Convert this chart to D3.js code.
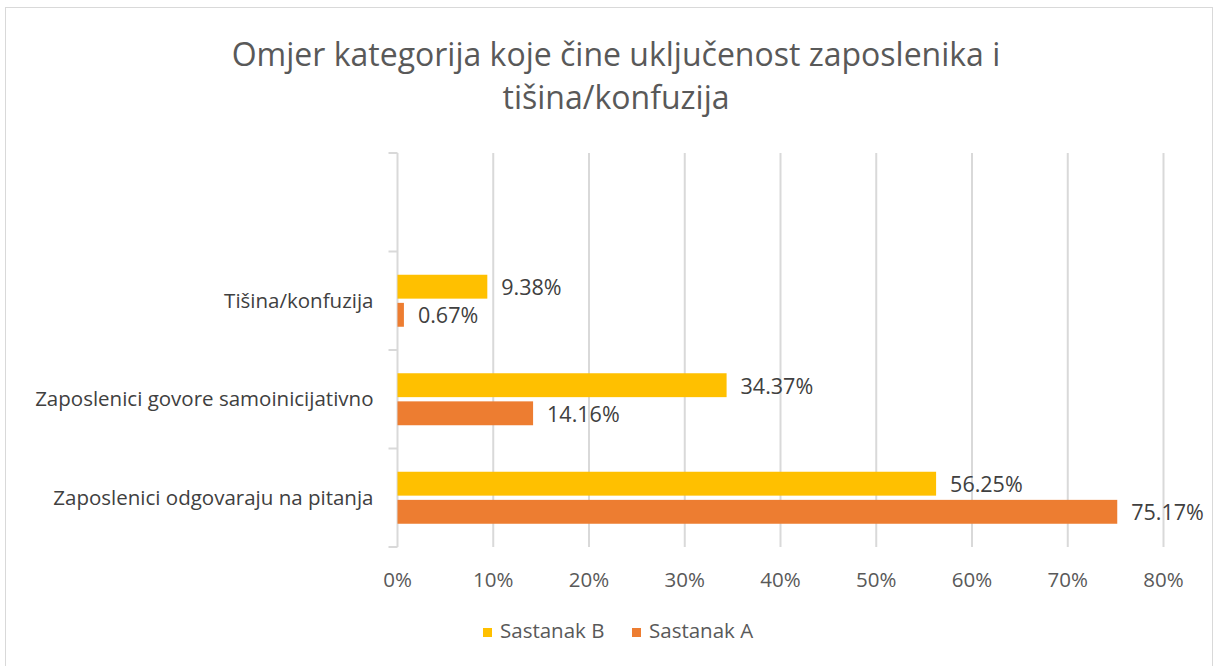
<!DOCTYPE html>
<html>
<head>
<meta charset="utf-8">
<script src="https://cdn.jsdelivr.net/npm/d3@7"></script>
<style>
  html, body { margin: 0; padding: 0; background: #fff; }
  svg { display: block; font-family: "Open Sans", "Noto Sans", sans-serif; }
</style>
</head>
<body>
<div id="chart"></div>
<script>
// Chart data (top category slot is empty in the original).
var categories = ["", "Tišina/konfuzija", "Zaposlenici govore samoinicijativno", "Zaposlenici odgovaraju na pitanja"];
var sastanakB = [null, 9.38, 34.37, 56.25];
var sastanakA = [null, 0.67, 14.16, 75.17];
var xTicks = [0, 10, 20, 30, 40, 50, 60, 70, 80];
var seriesNames = ["Sastanak B", "Sastanak A"];
var titleLines = ["Omjer kategorija koje čine uključenost zaposlenika i", "tišina/konfuzija"];

var width = 1216, height = 666,
    colors = { "Sastanak B": "#FFC000", "Sastanak A": "#ED7D31" },
    textColor = "#595959",
    gridColor = "#d9d9d9",
    plot = { left: 397.5, right: 1163.5, top: 153, bottom: 547 };

var svg = d3.select("#chart").append("svg")
    .attr("width", width)
    .attr("height", height);

// Outer chart border.
svg.append("rect")
    .attr("x", 5.5).attr("y", 7.5)
    .attr("width", 1207).attr("height", 670)
    .attr("fill", "#fff")
    .attr("stroke", gridColor);

// Title.
svg.append("g").selectAll("text")
    .data(titleLines)
  .enter().append("text")
    .attr("x", 616)
    .attr("y", function(d, i) { return 66 + i * 43; })
    .attr("text-anchor", "middle")
    .attr("fill", textColor)
    .style("font-size", "32px")
    .text(function(d) { return d; });

// Scales.
var x = d3.scaleLinear().domain([0, 80]).range([plot.left, plot.right]);
var y = d3.scaleBand().domain(categories).range([plot.top, plot.bottom]);
var sub = d3.scaleBand().domain(seriesNames)
    .range([y.bandwidth() / 2 - 26, y.bandwidth() / 2 + 26])
    .paddingInner(0.15);

// Vertical gridlines.
svg.append("g").selectAll("line")
    .data(xTicks.slice(1))
  .enter().append("line")
    .attr("x1", function(d) { return x(d); })
    .attr("x2", function(d) { return x(d); })
    .attr("y1", plot.top).attr("y2", plot.bottom)
    .attr("stroke", gridColor)
    .attr("stroke-width", 2);

// Category axis on the left.
var yAxis = svg.append("g")
    .attr("transform", "translate(" + plot.left + ",0)");
yAxis.append("line")
    .attr("y1", plot.top).attr("y2", plot.bottom)
    .attr("stroke", gridColor).attr("stroke-width", 2);
yAxis.selectAll("line.tick")
    .data(categories.concat(["_end"]))
  .enter().append("line")
    .attr("class", "tick")
    .attr("x1", -9).attr("x2", 0)
    .attr("y1", function(d, i) { return plot.top + i * y.step(); })
    .attr("y2", function(d, i) { return plot.top + i * y.step(); })
    .attr("stroke", gridColor).attr("stroke-width", 2);
yAxis.selectAll("text")
    .data(categories)
  .enter().append("text")
    .attr("x", -24)
    .attr("y", function(d) { return y(d) + y.bandwidth() / 2; })
    .attr("dy", "0.35em")
    .attr("text-anchor", "end")
    .attr("fill", "#404040")
    .style("font-size", "20.5px")
    .text(function(d) { return d; });

// Value axis labels.
svg.append("g").selectAll("text")
    .data(xTicks)
  .enter().append("text")
    .attr("x", function(d) { return x(d); })
    .attr("y", 587)
    .attr("text-anchor", "middle")
    .attr("fill", textColor)
    .style("font-size", "20.5px")
    .text(function(d) { return d + "%"; });

// Bars and data labels.
var rows = categories.map(function(c, i) {
  return { category: c, values: [
    { name: "Sastanak B", value: sastanakB[i] },
    { name: "Sastanak A", value: sastanakA[i] }
  ] };
});

var groups = svg.append("g").selectAll("g")
    .data(rows)
  .enter().append("g")
    .attr("transform", function(d) { return "translate(0," + y(d.category) + ")"; });

var cells = groups.selectAll("g")
    .data(function(d) { return d.values.filter(function(v) { return v.value != null; }); })
  .enter().append("g");

cells.append("rect")
    .attr("x", x(0))
    .attr("y", function(d) { return sub(d.name); })
    .attr("width", function(d) { return x(d.value) - x(0); })
    .attr("height", sub.bandwidth())
    .attr("fill", function(d) { return colors[d.name]; });

cells.append("text")
    .attr("x", function(d) { return x(d.value) + 14; })
    .attr("y", function(d) { return sub(d.name) + sub.bandwidth() / 2 + 1; })
    .attr("dy", "0.35em")
    .attr("fill", "#404040")
    .style("font-size", "21.5px")
    .text(function(d) { return d.value.toFixed(2) + "%"; });

// Legend.
var legend = svg.append("g").selectAll("g")
    .data(seriesNames)
  .enter().append("g")
    .attr("transform", function(d, i) { return "translate(" + (483 + i * 149) + ",628)"; });
legend.append("rect")
    .attr("width", 9).attr("height", 9)
    .attr("fill", function(d) { return colors[d]; });
legend.append("text")
    .attr("x", 17).attr("y", 10)
    .attr("fill", textColor)
    .style("font-size", "20.5px")
    .text(function(d) { return d; });
</script>
</body>
</html>
